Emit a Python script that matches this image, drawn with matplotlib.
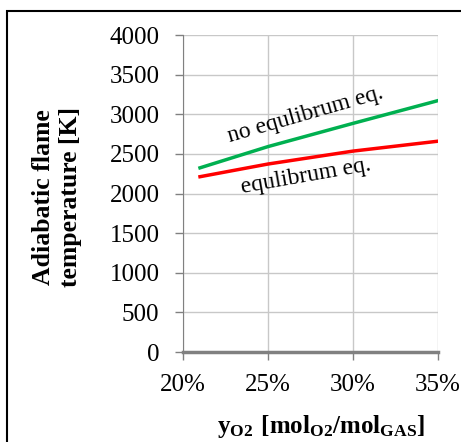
import matplotlib.pyplot as plt
from matplotlib.patches import Rectangle

plt.rcParams['font.family'] = 'Liberation Serif'
plt.rcParams['mathtext.fontset'] = 'custom'
plt.rcParams['mathtext.rm'] = 'Liberation Serif'
plt.rcParams['mathtext.bf'] = 'Liberation Serif:bold'

# data
y_o2 = [0.21, 0.25, 0.30, 0.35]
t_no_eq = [2324, 2592, 2885, 3172]
t_eq = [2212, 2372, 2535, 2660]
x_ticks = [0.20, 0.25, 0.30, 0.35]
x_labels = ['20%', '25%', '30%', '35%']
y_ticks = list(range(0, 4001, 500))

fig = plt.figure(figsize=(4.61, 4.42), dpi=100)
ax = fig.add_axes([0.397, 0.2036, 0.553, 0.7172])

ax.plot(y_o2, t_no_eq, color='#00b050', lw=2.5, zorder=3)
ax.plot(y_o2, t_eq, color='#ff0000', lw=2.5, zorder=3)

ax.set_xlim(0.20, 0.35)
ax.set_ylim(0, 4000)
ax.set_xticks(x_ticks)
ax.set_xticklabels(x_labels)
ax.set_yticks(y_ticks)
ax.tick_params(labelsize=18, colors='#808080', length=6, width=1)
for lab in ax.get_xticklabels() + ax.get_yticklabels():
    lab.set_color('black')
ax.tick_params(axis='x', pad=10)
ax.tick_params(axis='y', pad=11)
ax.grid(True, color='#c8c8c8', lw=1)
ax.set_axisbelow(True)

for s in ['top', 'right']:
    ax.spines[s].set_visible(False)
ax.spines['left'].set_color('#808080')
ax.spines['bottom'].set_color('#808080')
ax.spines['bottom'].set_linewidth(2.5)

ax.set_ylabel('Adiabatic flame\ntemperature [K]', fontsize=18.5, fontweight='bold',
              labelpad=20, linespacing=1.2, y=0.49)
ax.set_xlabel(r'$\mathbf{y_{O2}\ [mol_{O2}/mol_{GAS}]}$', fontsize=18,
              labelpad=12, x=0.54)

ax.text(0.2718, 2990, 'no equlibrum eq.', fontsize=17, rotation=16,
        ha='center', va='center')
ax.text(0.2724, 2219, 'equlibrum eq.', fontsize=17, rotation=10,
        ha='center', va='center')

fig.patches.append(Rectangle((7 / 461, -0.1), 1.2, 1 - 11 / 442 + 0.1,
                             transform=fig.transFigure, fill=False,
                             edgecolor='black', lw=1.5))

fig.savefig('out.png', dpi=100)
